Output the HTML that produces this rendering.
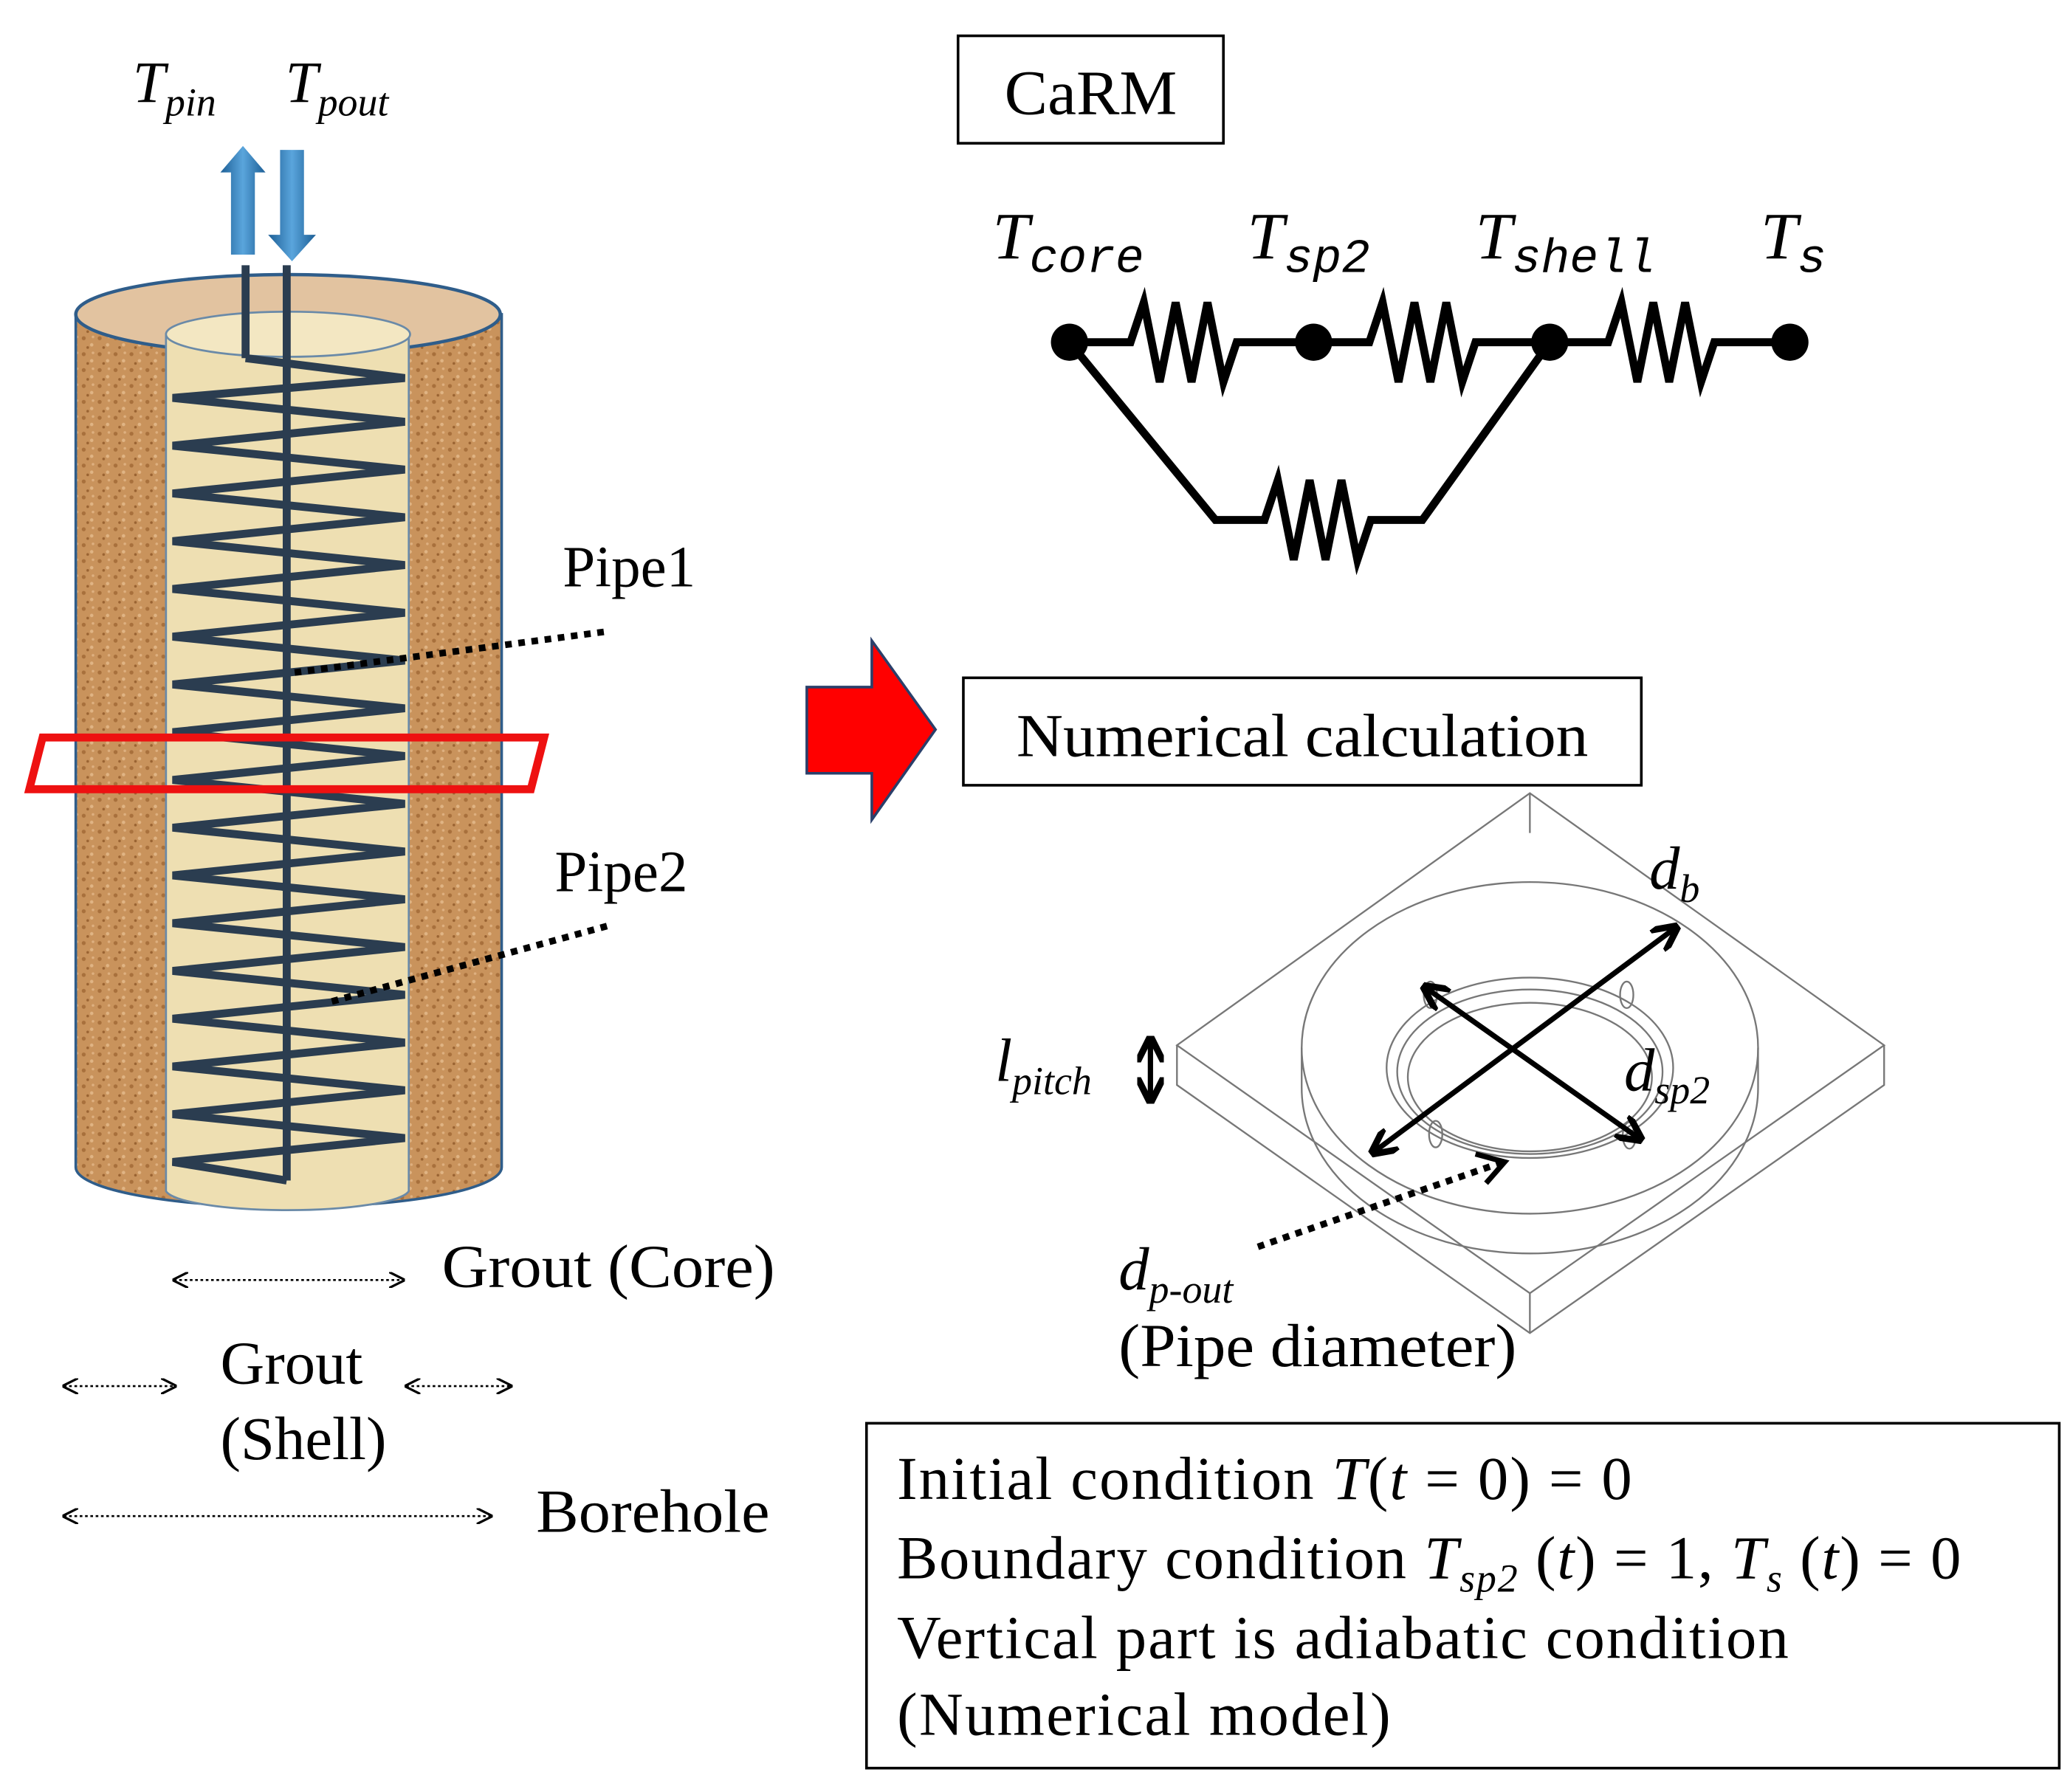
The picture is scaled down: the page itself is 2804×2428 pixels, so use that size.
<!DOCTYPE html>
<html><head><meta charset="utf-8">
<style>
html,body{margin:0;padding:0;background:#fff;}
svg{display:block;}
text{font-family:"Liberation Serif",serif;fill:#000;}
.it{font-style:italic;}
</style></head>
<body>
<svg width="2804" height="2428" viewBox="0 0 1560 1351" xmlns="http://www.w3.org/2000/svg">
<defs>
<pattern id="cork" width="12" height="12" patternUnits="userSpaceOnUse">
<rect width="12" height="12" fill="#c9935c"/>
<circle cx="3" cy="3" r="1.5" fill="#a8703c"/>
<circle cx="9" cy="8" r="1.3" fill="#e0b484"/>
<circle cx="6" cy="10" r="1" fill="#9a6332"/>
<circle cx="10" cy="2" r="1" fill="#deb080"/>
</pattern>
<linearGradient id="blue" x1="0" x2="1"><stop offset="0" stop-color="#1d5f96"/><stop offset="0.5" stop-color="#5aa5dc"/><stop offset="1" stop-color="#1d5f96"/></linearGradient>
<marker id="oa" viewBox="0 0 10 10" refX="9" refY="5" markerWidth="8" markerHeight="8" orient="auto-start-reverse"><path d="M0,0 L10,5 L0,10" fill="none" stroke="#000" stroke-width="1.5"/></marker>
<marker id="fa" viewBox="0 0 10 10" refX="8" refY="5" markerWidth="5" markerHeight="5" orient="auto-start-reverse"><path d="M0,0 L10,5 L0,10" fill="none" stroke="#000" stroke-width="2.5"/></marker>
</defs>

<path d="M57,237 L57,880 A160,30 0 0 0 378,880 L378,237 Z" fill="url(#cork)" stroke="#2f5d8a" stroke-width="2"/>
<ellipse cx="217" cy="237" rx="160" ry="30" fill="#e2c3a0" stroke="#2f5d8a" stroke-width="2.5"/>
<path d="M125,252 L125,898 A92,16 0 0 0 308,898 L308,252 Z" fill="#eedfb2" stroke="#6a8aa8" stroke-width="1.5"/>
<ellipse cx="217" cy="252" rx="92" ry="17" fill="#f3e7c2" stroke="#6a8aa8" stroke-width="1.5"/>
<g stroke="#2b3d50" stroke-width="6" fill="none" stroke-linejoin="miter">
<line x1="185" y1="200" x2="185" y2="270"/>
<line x1="216" y1="200" x2="216" y2="890"/>
<polyline points="185,270 305,285 130,300 305,318 130,336 305,354 130,372 305,390 130,408 305,426 130,444 305,462 130,480 305,498 130,516 305,534 130,552 305,570 130,588 305,606 130,624 305,642 130,660 305,678 130,696 305,714 130,732 305,750 130,768 305,786 130,804 305,822 130,840 305,858 130,876 216,890"/>
</g>
<polygon points="174,192 174,130 166,130 183,110 200,130 192,130 192,192" fill="url(#blue)"/>
<polygon points="211,113 229,113 229,177 238,177 220,197 202,177 211,177" fill="url(#blue)"/>
<text x="100" y="77" font-size="44" class="it">T<tspan font-size="30" dy="10">pin</tspan></text>
<text x="215" y="77" font-size="44" class="it">T<tspan font-size="30" dy="10">pout</tspan></text>

<polygon points="32,556 410,556 400,595 22,595" fill="none" stroke="#ee1111" stroke-width="6"/>

<line x1="222" y1="507" x2="458" y2="476" stroke="#000" stroke-width="5" stroke-dasharray="5,5"/>
<line x1="250" y1="755" x2="458" y2="698" stroke="#000" stroke-width="5" stroke-dasharray="5,5"/>
<text x="424" y="442" font-size="44">Pipe1</text>
<text x="418" y="672" font-size="44">Pipe2</text>

<g stroke="#000" stroke-width="1.5" stroke-dasharray="2,2" marker-start="url(#oa)" marker-end="url(#oa)">
<line x1="131" y1="965" x2="304" y2="965"/>
<line x1="48" y1="1045" x2="132" y2="1045"/>
<line x1="306" y1="1045" x2="385" y2="1045"/>
<line x1="48" y1="1143" x2="370" y2="1143"/>
</g>
<text x="333" y="970" font-size="46" textLength="251" lengthAdjust="spacingAndGlyphs">Grout (Core)</text>
<text x="166" y="1043" font-size="46">Grout</text>
<text x="166" y="1100" font-size="46">(Shell)</text>
<text x="404" y="1155" font-size="46" textLength="176" lengthAdjust="spacingAndGlyphs">Borehole</text>

<rect x="722" y="27" width="200" height="81" fill="none" stroke="#000" stroke-width="2"/>
<text x="757" y="86" font-size="48" textLength="130" lengthAdjust="spacingAndGlyphs">CaRM</text>
<text x="748" y="195" font-size="50" class="it">T<tspan font-family="Liberation Mono" font-size="36" dy="10">core</tspan></text>
<text x="940" y="195" font-size="50" class="it">T<tspan font-family="Liberation Mono" font-size="36" dy="10">sp2</tspan></text>
<text x="1112" y="195" font-size="50" class="it">T<tspan font-family="Liberation Mono" font-size="36" dy="10">shell</tspan></text>
<text x="1327" y="195" font-size="50" class="it">T<tspan font-family="Liberation Mono" font-size="36" dy="10">s</tspan></text>
<g stroke="#000" stroke-width="6" fill="none" stroke-linejoin="miter">
<polyline points="806,258 852,258 862,228 874,288 886,228 898,288 910,228 922,288 932,258 990,258"/>
<polyline points="990,258 1032,258 1042,228 1054,288 1066,228 1078,288 1090,228 1102,288 1112,258 1168,258"/>
<polyline points="1168,258 1212,258 1222,228 1234,288 1246,228 1258,288 1270,228 1282,288 1292,258 1349,258"/>
<polyline points="806,258 916,392 953,392 963,362 975,422 987,362 999,422 1011,362 1023,422 1033,392 1072,392 1168,258"/>
</g>
<g fill="#000"><circle cx="806" cy="258" r="14"/><circle cx="990" cy="258" r="14"/><circle cx="1168" cy="258" r="14"/><circle cx="1349" cy="258" r="14"/></g>

<polygon points="608,518 657,518 657,483 705,550 657,618 657,583 608,583" fill="#ff0000" stroke="#2a3f6a" stroke-width="2"/>

<rect x="726" y="511" width="511" height="81" fill="none" stroke="#000" stroke-width="2"/>
<text x="766" y="570" font-size="46" textLength="431" lengthAdjust="spacingAndGlyphs">Numerical calculation</text>

<g fill="none" stroke="#777" stroke-width="1.3">
<polygon points="1153,598 1420,788 1153,975 887,788"/>
<polyline points="887,788 887,818 1153,1005 1420,818 1420,788"/>
<line x1="1153" y1="975" x2="1153" y2="1005"/>
<line x1="1153" y1="598" x2="1153" y2="628"/>
<ellipse cx="1153" cy="790" rx="172" ry="125"/>
<path d="M981,790 L981,820 A172,125 0 0 0 1325,820 L1325,790"/>
<ellipse cx="1153" cy="805" rx="108" ry="68"/>
<ellipse cx="1153" cy="808" rx="100" ry="62"/>
<ellipse cx="1153" cy="812" rx="92" ry="56"/>
<ellipse cx="1078" cy="750" rx="5" ry="10"/>
<ellipse cx="1226" cy="750" rx="5" ry="10"/>
<ellipse cx="1082" cy="855" rx="5" ry="10"/>
<ellipse cx="1228" cy="856" rx="5" ry="10"/>
</g>
<g stroke="#000" stroke-width="4" marker-start="url(#fa)" marker-end="url(#fa)">
<line x1="1036" y1="868" x2="1262" y2="700"/>
<line x1="1075" y1="745" x2="1235" y2="858"/>
<line x1="867" y1="785" x2="867" y2="828"/>
</g>
<line x1="948" y1="940" x2="1133" y2="876" stroke="#000" stroke-width="5" stroke-dasharray="5,5"/>
<polyline points="1112,870 1134,876 1120,892" fill="none" stroke="#000" stroke-width="4"/>
<text x="1243" y="670" font-size="46" class="it">d<tspan font-size="30" dy="10">b</tspan></text>
<text x="1224" y="822" font-size="46" class="it">d<tspan font-size="30" dy="10">sp2</tspan></text>
<text x="750" y="815" font-size="46" class="it">l<tspan font-size="30" dy="10">pitch</tspan></text>
<text x="843" y="972" font-size="46" class="it">d<tspan font-size="30" dy="10">p-out</tspan></text>
<text x="843" y="1030" font-size="46" textLength="300" lengthAdjust="spacingAndGlyphs">(Pipe diameter)</text>

<rect x="653" y="1073" width="899" height="260" fill="none" stroke="#000" stroke-width="2"/>
<text x="676" y="1130" font-size="46" textLength="554" lengthAdjust="spacing">Initial condition <tspan class="it">T</tspan>(<tspan class="it">t</tspan> = 0) = 0</text>
<text x="676" y="1190" font-size="46" textLength="802" lengthAdjust="spacing">Boundary condition <tspan class="it">T</tspan><tspan class="it" font-size="30" dy="10">sp2</tspan><tspan dy="-10"> (</tspan><tspan class="it">t</tspan>) = 1, <tspan class="it">T</tspan><tspan class="it" font-size="30" dy="10">s</tspan><tspan dy="-10"> (</tspan><tspan class="it">t</tspan>) = 0</text>
<text x="676" y="1250" font-size="46" textLength="672" lengthAdjust="spacing">Vertical part is adiabatic condition</text>
<text x="676" y="1308" font-size="46" textLength="372" lengthAdjust="spacing">(Numerical model)</text>
</svg>
</body></html>
